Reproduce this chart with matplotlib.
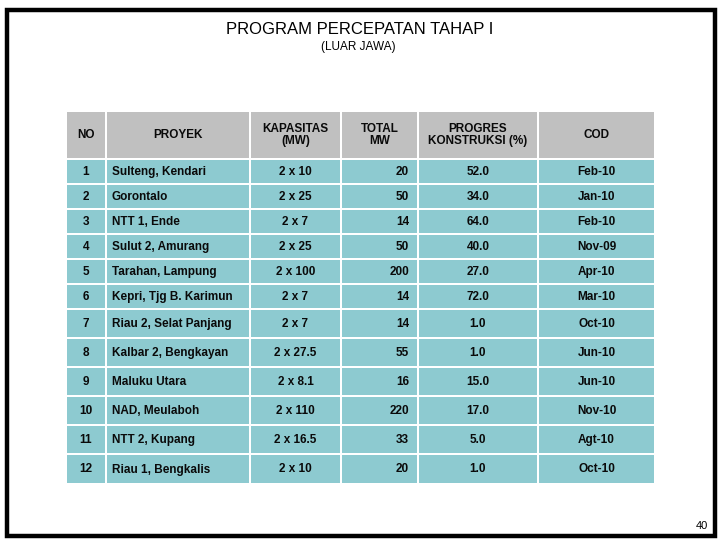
import matplotlib.pyplot as plt
from matplotlib.patches import Rectangle

# ---- data ----
headers = ['NO', 'PROYEK', 'KAPASITAS\n(MW)', 'TOTAL\nMW', 'PROGRES\nKONSTRUKSI (%)', 'COD']
no = ['1', '2', '3', '4', '5', '6', '7', '8', '9', '10', '11', '12']
proyek = ['Sulteng, Kendari', 'Gorontalo', 'NTT 1, Ende', 'Sulut 2, Amurang',
          'Tarahan, Lampung', 'Kepri, Tjg B. Karimun', 'Riau 2, Selat Panjang',
          'Kalbar 2, Bengkayan', 'Maluku Utara', 'NAD, Meulaboh',
          'NTT 2, Kupang', 'Riau 1, Bengkalis']
kapasitas = ['2 x 10', '2 x 25', '2 x 7', '2 x 25', '2 x 100', '2 x 7', '2 x 7',
             '2 x 27.5', '2 x 8.1', '2 x 110', '2 x 16.5', '2 x 10']
total_mw = [20, 50, 14, 50, 200, 14, 14, 55, 16, 220, 33, 20]
progres = [52.0, 34.0, 64.0, 40.0, 27.0, 72.0, 1.0, 1.0, 15.0, 17.0, 5.0, 1.0]
cod = ['Feb-10', 'Jan-10', 'Feb-10', 'Nov-09', 'Apr-10', 'Mar-10', 'Oct-10',
       'Jun-10', 'Jun-10', 'Nov-10', 'Agt-10', 'Oct-10']

# ---- layout (pixel units) ----
col_edges = [66, 106, 250, 341, 418, 538, 655]
row_edges = [111, 159, 184, 209, 234, 259, 284, 309, 338, 367, 396, 425, 454, 484]
gap = 2.5
head_col = '#C0C0C0'
body_col = '#8DCAD0'
font = 'Liberation Sans'

fig = plt.figure(figsize=(7.2, 5.4), dpi=100)
ax = fig.add_axes([0, 0, 1, 1])
ax.set_xlim(0, 720)
ax.set_ylim(540, 0)
ax.axis('off')

# outer frame
ax.add_patch(Rectangle((6.5, 9.5), 708.5, 526, fill=False, ec='black', lw=3.2))

# titles
ax.text(360, 30, 'PROGRAM PERCEPATAN TAHAP I', ha='center', va='center',
        fontsize=12, family=font)
ax.text(358, 47, '(LUAR JAWA)', ha='center', va='center', fontsize=8.5, family=font)
ax.text(702, 526, '40', ha='center', va='center', fontsize=8, family=font)

rows = []
for i in range(len(no)):
    rows.append([no[i], proyek[i], kapasitas[i], '%d' % total_mw[i],
                 '%.1f' % progres[i], cod[i]])

# alignment of body text for each column
body_align = ['center', 'left', 'center', 'right', 'center', 'center']

for r in range(len(row_edges) - 1):
    y0, y1 = row_edges[r], row_edges[r + 1]
    for c in range(len(col_edges) - 1):
        x0, x1 = col_edges[c], col_edges[c + 1]
        color = head_col if r == 0 else body_col
        ax.add_patch(Rectangle((x0 + gap / 2, y0 + gap / 2), x1 - x0 - gap,
                               y1 - y0 - gap, fc=color, ec='none'))
        ym = (y0 + y1) / 2
        if r == 0:
            ax.text((x0 + x1) / 2, ym, headers[c], ha='center', va='center',
                    fontsize=8.5, family=font, fontweight='bold',
                    color='#0a0a0a', linespacing=1.1)
        else:
            al = body_align[c]
            if al == 'left':
                xt = x0 + 6
            elif al == 'right':
                xt = x1 - 9
            else:
                xt = (x0 + x1) / 2
            ax.text(xt, ym + 0.5, rows[r - 1][c], ha=al, va='center', fontsize=8.5,
                    family=font, fontweight='bold', color='#0a0a0a')

fig.savefig('out.png', dpi=100, facecolor='white')
